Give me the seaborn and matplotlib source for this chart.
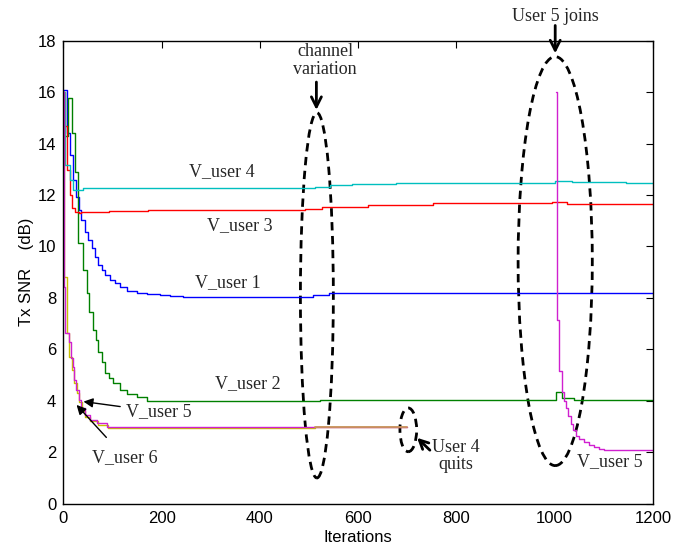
import matplotlib
matplotlib.use("Agg")
import matplotlib.pyplot as plt
import seaborn as sns
import pandas as pd
from matplotlib.patches import Ellipse

# ---------------- data ----------------
user1_iters = [0, 8, 14, 20, 26, 31, 37, 44, 51, 58, 65, 71, 78, 85, 95, 105, 115, 129, 150, 170, 197, 217, 244, 509, 540, 604, 1200]
user1_vals = [16.1, 14.4, 13.56, 12.59, 11.94, 11.42, 11.03, 10.58, 10.25, 9.93, 9.6, 9.28, 9.09, 8.89, 8.7, 8.59, 8.44, 8.28, 8.2, 8.14, 8.11, 8.08, 8.05, 8.1, 8.18, 8.2, 8.2]

user2_iters = [0, 1, 10, 17, 24, 30, 41, 48, 53, 61, 66, 71, 78, 85, 92, 102, 115, 129, 150, 170, 523, 1003, 1015, 1040, 1080, 1200]
user2_vals = [16.0, 14.28, 15.76, 14.4, 12.9, 10.12, 9.08, 8.18, 7.47, 6.75, 6.36, 5.91, 5.52, 5.07, 4.87, 4.68, 4.42, 4.27, 4.16, 4.0, 4.02, 4.34, 4.09, 4.05, 4.03, 4.03]

user3_iters = [0, 3, 7, 14, 18, 24, 31, 37, 92, 173, 492, 526, 621, 753, 995, 1025, 1200]
user3_vals = [16.0, 14.7, 12.97, 12.0, 11.48, 11.35, 11.29, 11.33, 11.38, 11.42, 11.46, 11.55, 11.61, 11.68, 11.73, 11.66, 11.66]

user4_iters = [0, 3, 14, 20, 41, 513, 543, 587, 676, 1000, 1036, 1146, 1200]
user4_vals = [16.0, 13.17, 12.58, 12.19, 12.27, 12.33, 12.39, 12.43, 12.47, 12.56, 12.5, 12.45, 12.45]

user5_iters = [0, 1, 4, 12, 15, 19, 22, 26, 31, 37, 44, 54, 68, 88, 129, 513, 700]
user5_vals = [16.0, 8.44, 6.62, 6.3, 5.65, 5.33, 4.81, 4.42, 4.03, 3.71, 3.45, 3.25, 3.13, 3.0, 2.97, 3.0, 3.0]

user5_join_iters = [1003, 1004, 1009, 1014, 1019, 1023, 1028, 1033, 1038, 1044, 1050, 1059, 1069, 1079, 1090, 1100, 1200]
user5_join_vals = [16.0, 7.16, 5.16, 4.34, 4.0, 3.72, 3.4, 3.1, 2.85, 2.65, 2.5, 2.38, 2.27, 2.2, 2.14, 2.1, 2.1]

user6_iters = [0, 1, 8, 12, 17, 22, 27, 32, 38, 45, 55, 70, 90, 129, 513, 700]
user6_vals = [16.0, 8.83, 6.62, 5.72, 5.2, 4.7, 4.3, 3.95, 3.62, 3.38, 3.2, 3.05, 2.93, 2.95, 3.0, 3.0]

x_ticks = [0, 200, 400, 600, 800, 1000, 1200]
y_ticks = [0, 2, 4, 6, 8, 10, 12, 14, 16, 18]

# ---------------- style ----------------
sns.set_theme(style="white")
plt.rcParams["font.family"] = ["Liberation Sans", "DejaVu Sans"]
plt.rcParams.update({
    "xtick.direction": "in", "ytick.direction": "in",
    "xtick.top": True, "ytick.right": True,
    "xtick.major.size": 5, "ytick.major.size": 5,
    "xtick.major.width": 0.8, "ytick.major.width": 0.8,
    "xtick.color": "black", "ytick.color": "black",
    "axes.edgecolor": "black", "axes.linewidth": 1.0,
})
SERIF = ["Liberation Serif", "DejaVu Serif"]

fig = plt.figure(figsize=(6.75, 5.56), dpi=100)
ax = fig.add_axes([0.0938, 0.0941, 0.8736, 0.8327])


def draw(iters, vals, color, lw=1.0):
    df = pd.DataFrame({"it": iters, "v": vals})
    sns.lineplot(data=df, x="it", y="v", ax=ax, color=color, lw=lw,
                 drawstyle="steps-post", estimator=None, sort=False,
                 legend=False)


draw(user1_iters, user1_vals, "#0000ff")
draw(user2_iters, user2_vals, "#008000")
draw(user3_iters, user3_vals, "#ff0000")
draw(user4_iters, user4_vals, "#00bfbf")
draw(user6_iters, user6_vals, "#c8c000")
draw(user5_iters, user5_vals, "#d020d0")
# overlapping part after the channel variation renders as a blended tan
k = user5_iters.index(513)
draw(user5_iters[k:], user5_vals[k:], "#c8965a", lw=1.3)
draw(user5_join_iters, user5_join_vals, "#d020d0")

ax.set_xlim(0, 1200)
ax.set_ylim(0, 18)
ax.set_xticks(x_ticks)
ax.set_yticks(y_ticks)
ax.tick_params(axis="both", labelsize=12, pad=5)
ax.set_xlabel("Iterations", fontsize=12, labelpad=3, color="black")
ax.set_ylabel("Tx SNR    (dB)", fontsize=12, labelpad=3, color="black")
for s in ax.spines.values():
    s.set_visible(True)
    s.set_color("black")

# ---------------- annotations ----------------
tfs = 13
ax.text(323, 12.9, "V_user 4", fontsize=tfs, family=SERIF, ha="center", va="center")
ax.text(360, 10.8, "V_user 3", fontsize=tfs, family=SERIF, ha="center", va="center")
ax.text(335, 8.6, "V_user 1", fontsize=tfs, family=SERIF, ha="center", va="center")
ax.text(376, 4.68, "V_user 2", fontsize=tfs, family=SERIF, ha="center", va="center")
ax.text(1113, 1.62, "V_user 5", fontsize=tfs, family=SERIF, ha="center", va="center")

ax.annotate("V_user 5", xy=(41, 3.97), xytext=(128, 3.57), fontsize=tfs, family=SERIF,
            ha="left", va="center",
            arrowprops=dict(arrowstyle="-|>", color="black", lw=1.0,
                            mutation_scale=14, shrinkA=2, shrinkB=0))
ax.annotate("V_user 6", xy=(27, 3.84), xytext=(58, 1.8), fontsize=tfs, family=SERIF,
            ha="left", va="center",
            arrowprops=dict(arrowstyle="-|>", color="black", lw=1.0,
                            mutation_scale=14, shrinkA=8, shrinkB=0))

# channel variation
ax.text(533, 17.22, "channel\nvariation", fontsize=tfs, family=SERIF, ha="center",
        va="center", linespacing=1.1)
ax.annotate("", xy=(515, 15.2), xytext=(515, 16.5),
            arrowprops=dict(arrowstyle="->", color="black", lw=2, mutation_scale=18))
ax.add_patch(Ellipse((516, 8.1), 67, 14.2, fill=False, ls=(0, (3, 2)), lw=2, color="black"))

# user 5 joins
ax.text(1001, 18.95, "User 5 joins", fontsize=tfs, family=SERIF, ha="center", va="center",
        clip_on=False)
ax.annotate("", xy=(1001, 17.4), xytext=(1001, 18.7),
            arrowprops=dict(arrowstyle="->", color="black", lw=2, mutation_scale=18),
            annotation_clip=False)
ax.add_patch(Ellipse((1001, 9.43), 151, 15.9, fill=False, ls=(0, (3, 2)), lw=2, color="black"))

# user 4 quits
ax.add_patch(Ellipse((702, 2.87), 34, 1.7, fill=False, ls=(0, (3, 2)), lw=2, color="black"))
ax.annotate("", xy=(720, 2.56), xytext=(746, 2.08),
            arrowprops=dict(arrowstyle="->", color="black", lw=2, mutation_scale=16,
                            shrinkA=0, shrinkB=0))
ax.text(798, 1.86, "User 4\nquits", fontsize=tfs, family=SERIF, ha="center",
        va="center", linespacing=1.05)

fig.savefig("out.png", dpi=100)
